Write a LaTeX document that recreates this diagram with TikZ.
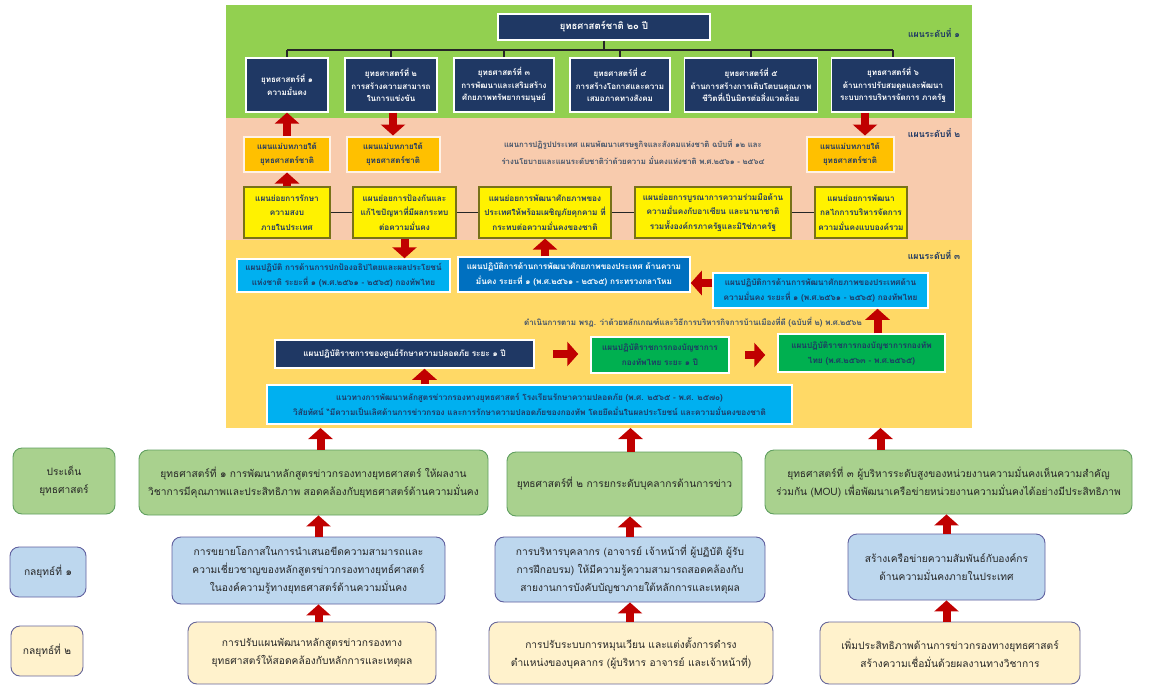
\documentclass[tikz,border=0pt]{standalone}
\usepackage{fontspec}
\setmainfont[Script=Thai]{Loma}
\usetikzlibrary{arrows.meta}
\definecolor{lvgreen}{HTML}{92D050}
\definecolor{lvpeach}{HTML}{F8CBAD}
\definecolor{lvgold}{HTML}{FFD966}
\definecolor{navy}{HTML}{1F3864}
\definecolor{slate}{HTML}{44546A}
\definecolor{darkred}{HTML}{C00000}
\definecolor{orangebox}{HTML}{FFC000}
\definecolor{skyblue}{HTML}{00B0F0}
\definecolor{midblue}{HTML}{0070C0}
\definecolor{plangreen}{HTML}{00B050}
\definecolor{sgreen}{HTML}{A9D18E}
\definecolor{sblue}{HTML}{BDD7EE}
\definecolor{scream}{HTML}{FFF2CC}
\tikzset{
    sz/.style 2 args={minimum width=#1, minimum height=#2},
    lvl/.style={font=\fontsize{8.8}{10}\selectfont\bfseries, text=navy},
    topbox/.style={fill=navy, draw=white, line width=1.2pt, text=white, font=\fontsize{8}{12.5}\selectfont\bfseries},
    mapbox/.style={fill=orangebox, draw=white!90!orange, line width=2pt, text=navy, font=\fontsize{8}{14}\selectfont\bfseries},
    subplan/.style={fill=yellow, draw=olive!80!black, line width=1.2pt, text=navy, font=\fontsize{8.2}{14.5}\selectfont\bfseries},
    actbox/.style={draw=white, line width=1.5pt, text=navy, font=\fontsize{8.2}{15}\selectfont\bfseries},
    issue/.style={rounded corners=9pt, line width=0.9pt, text=black!85, font=\fontsize{10.2}{18}\selectfont},
    redarrow/.style={draw=darkred, line width=8pt, -{Triangle[width=24pt,length=11pt]}},
    link/.style={draw=black!85, line width=1.6pt}
}

\begin{document}
\begin{tikzpicture}[x=1pt, y=-1pt, every node/.style={align=center, inner sep=2pt}]
\useasboundingbox (0,0) rectangle (1168,686);
\fill[lvgreen] (226,5) rectangle (972,118);
\fill[lvpeach] (226,118) rectangle (972,240);
\fill[lvgold] (226,240) rectangle (972,428);
\coordinate (lv3) at (600,428);

% plan level 1
\node[topbox, sz={212}{26}, font=\fontsize{9.5}{11}\selectfont\bfseries] (nat) at (604,27) {ยุทธศาสตร์ชาติ ๒๐ ปี};
\node[lvl] (l1) at (934,33) {แผนระดับที่ ๑};
\node[topbox, sz={82}{54}] (s1) at (287,85) {ยุทธศาสตร์ที่ ๑\\ความมั่นคง};
\node[topbox, sz={92}{54}] (s2) at (391,85) {ยุทธศาสตร์ที่ ๒\\การสร้างความสามารถ\\ในการแข่งขัน};
\node[topbox, sz={100}{54}] (s3) at (504,85) {ยุทธศาสตร์ที่ ๓\\การพัฒนาและเสริมสร้าง\\ศักยภาพทรัพยากรมนุษย์};
\node[topbox, sz={100}{54}] (s4) at (620,85) {ยุทธศาสตร์ที่ ๔\\การสร้างโอกาสและความ\\เสมอภาคทางสังคม};
\node[topbox, sz={133}{54}] (s5) at (751,85) {ยุทธศาสตร์ที่ ๕\\ด้านการสร้างการเติบโตบนคุณภาพ\\ชีวิตที่เป็นมิตรต่อสิ่งแวดล้อม};
\node[topbox, sz={123}{54}] (s6) at (893,85) {ยุทธศาสตร์ที่ ๖\\ด้านการปรับสมดุลและพัฒนา\\ระบบการบริหารจัดการ ภาครัฐ};
\coordinate (bus) at (604,50);
\draw[link] (nat.south) -- (bus);
\draw[link] (s1.north |- bus) -- (s6.north |- bus);
\foreach \i in {1,...,6} \draw[link] (s\i.north |- bus) -- (s\i.north);

% plan level 2
\node[lvl] (l2) at (934,133) {แผนระดับที่ ๒};
\node[mapbox, sz={86}{35}] (m1) at (287,154) {แผนแม่บทภายใต้\\ยุทธศาสตร์ชาติ};
\node[mapbox, sz={93}{35}] (m2) at (393,154) {แผนแม่บทภายใต้\\ยุทธศาสตร์ชาติ};
\node[mapbox, sz={87}{35}] (m3) at (850,154) {แผนแม่บทภายใต้\\ยุทธศาสตร์ชาติ};
\node[font=\fontsize{7.8}{17}\selectfont\bfseries, text=slate] (nsp) at (633,152) {แผนการปฏิรูปประเทศ แผนพัฒนาเศรษฐกิจและสังคมแห่งชาติ ฉบับที่ ๑๒ และ\\ร่างนโยบายและแผนระดับชาติว่าด้วยความ มั่นคงแห่งชาติ พ.ศ.๒๕๖๑ - ๒๕๖๔};
\node[subplan, sz={86}{51}] (p1) at (287,212.5) {แผนย่อยการรักษา\\ความสงบ\\ภายในประเทศ};
\node[subplan, sz={103}{51}] (p2) at (404.5,212.5) {แผนย่อยการป้องกันและ\\แก้ไขปัญหาที่มีผลกระทบ\\ต่อความมั่นคง};
\node[subplan, sz={132}{51}] (p3) at (545,212.5) {แผนย่อยการพัฒนาศักยภาพของ\\ประเทศให้พร้อมเผชิญภัยคุกคาม ที่\\กระทบต่อความมั่นคงของชาติ};
\node[subplan, sz={156}{51}] (p4) at (713,212.5) {แผนย่อยการบูรณาการความร่วมมือด้าน\\ความมั่นคงกับอาเซียน และนานาชาติ\\รวมทั้งองค์กรภาครัฐและมิใช่ภาครัฐ};
\node[subplan, sz={92}{51}] (p5) at (861,212.5) {แผนย่อยการพัฒนา\\กลไกการบริหารจัดการ\\ความมั่นคงแบบองค์รวม};
\foreach \i/\j in {1/2,2/3,3/4,4/5} \draw[link] (p\i.east) -- (p\j.west);
\draw[redarrow] (m1.north) -- (s1.south);
\draw[redarrow] (m2.north |- s2.south) -- (m2.north);
\draw[redarrow] ([xshift=15pt]m3.north |- s6.south) -- ([xshift=15pt]m3.north);
\draw[redarrow] (p1.north) -- (m1.south);

% plan level 3
\node[lvl] (l3) at (934,255) {แผนระดับที่ ๓};
\node[actbox, fill=skyblue, sz={213}{33}] (pa) at (343.5,275.5) {แผนปฏิบัติ การด้านการปกป้องอธิปไตยและผลประโยชน์\\แห่งชาติ ระยะที่ ๑ (พ.ศ.๒๕๖๑ - ๒๕๖๕) กองทัพไทย};
\node[actbox, fill=midblue, text=white, sz={232}{35}] (pb) at (574,274.5) {แผนปฏิบัติการด้านการพัฒนาศักยภาพของประเทศ ด้านความ\\มั่นคง ระยะที่ ๑ (พ.ศ.๒๕๖๑ - ๒๕๖๕) กระทรวงกลาโหม};
\node[actbox, fill=skyblue, sz={215}{35}] (pc) at (820.5,290.5) {แผนปฏิบัติการด้านการพัฒนาศักยภาพของประเทศด้าน\\ความมั่นคง ระยะที่ ๑ (พ.ศ.๒๕๖๑ - ๒๕๖๕) กองทัพไทย};
\node[font=\fontsize{8}{9}\selectfont\bfseries, text=slate] (rd) at (693,322) {ดำเนินการตาม พรฎ. ว่าด้วยหลักเกณฑ์และวิธีการบริหารกิจการบ้านเมืองที่ดี (ฉบับที่ ๒) พ.ศ.๒๕๖๒};
\node[actbox, fill=navy, text=white, sz={259}{28}] (nv) at (404.5,354) {แผนปฏิบัติราชการของศูนย์รักษาความปลอดภัย ระยะ ๑ ปี};
\node[actbox, fill=plangreen, sz={138}{36}] (ga) at (660,355) {แผนปฏิบัติราชการกองบัญชาการ\\กองทัพไทย ระยะ ๑ ปี};
\node[actbox, fill=plangreen, sz={167}{38}] (gb) at (861.5,353) {แผนปฏิบัติราชการกองบัญชาการกองทัพ\\ไทย (พ.ศ.๒๕๖๓ - พ.ศ.๒๕๖๕)};
\node[actbox, fill=skyblue, sz={525}{39}] (cw) at (529.5,404.5) {แนวทางการพัฒนาหลักสูตรข่าวกรองทางยุทธศาสตร์ โรงเรียนรักษาความปลอดภัย (พ.ศ. ๒๕๖๕ - พ.ศ. ๒๕๗๐)\\วิสัยทัศน์ “มีความเป็นเลิศด้านการข่าวกรอง และการรักษาความปลอดภัยของกองทัพ โดยยึดมั่นในผลประโยชน์ และความมั่นคงของชาติ};
\draw[redarrow] (p2.south) -- (p2.south |- pa.north);
\draw[redarrow] (p3.south |- pb.north) -- (p3.south);
\draw[redarrow] ([yshift=7.5pt]pc.west) -- ([yshift=7.5pt]pc.west -| pb.east);
\draw[redarrow] ([xshift=16pt]gb.north) -- ([xshift=16pt]gb.north |- pc.south);
\draw[redarrow, shorten <=18pt, shorten >=12pt] (nv.east) -- (nv.east -| ga.west);
\draw[redarrow, shorten <=15pt, shorten >=12pt] (ga.east) -- (ga.east -| gb.west);
\draw[redarrow] ([xshift=20pt]nv.south |- cw.north) -- ([xshift=20pt]nv.south);

% strategy
\node[issue, fill=sgreen, draw=green!25!gray, sz={102}{66}] (hi) at (64,481) {ประเด็น\\ยุทธศาสตร์};
\node[issue, fill=sblue, draw=blue!25!gray, sz={76}{50}] (ha) at (48,572) {กลยุทธ์ที่ ๑};
\node[issue, fill=scream, draw=blue!20!gray, sz={72}{50}] (hb) at (47,651) {กลยุทธ์ที่ ๒};
\node[issue, fill=sgreen, draw=green!25!gray, sz={349}{65}] (g1) at (313.5,482.5) {ยุทธศาสตร์ที่ ๑ การพัฒนาหลักสูตรข่าวกรองทางยุทธศาสตร์ ให้ผลงาน\\วิชาการมีคุณภาพและประสิทธิภาพ สอดคล้องกับยุทธศาสตร์ด้านความมั่นคง};
\node[issue, fill=sgreen, draw=green!25!gray, sz={235}{64}] (g2) at (624.5,484) {ยุทธศาสตร์ที่ ๒ การยกระดับบุคลากรด้านการข่าว};
\node[issue, fill=sgreen, draw=green!25!gray, sz={367}{64}] (g3) at (948.5,482) {ยุทธศาสตร์ที่ ๓ ผู้บริหารระดับสูงของหน่วยงานความมั่นคงเห็นความสำคัญ\\ร่วมกัน (MOU) เพื่อพัฒนาเครือข่ายหน่วยงานความมั่นคงได้อย่างมีประสิทธิภาพ};
\node[issue, fill=sblue, draw=blue!25!gray, sz={273}{67}] (k1) at (308.5,570.5) {การขยายโอกาสในการนำเสนอขีดความสามารถและ\\ความเชี่ยวชาญของหลักสูตรข่าวกรองทางยุทธ์ศาสตร์\\ในองค์ความรู้ทางยุทธศาสตร์ด้านความมั่นคง};
\node[issue, fill=sblue, draw=blue!25!gray, sz={270}{65}] (k2) at (630,569.5) {การบริหารบุคลากร (อาจารย์ เจ้าหน้าที่ ผู้ปฏิบัติ ผู้รับ\\การฝึกอบรม) ให้มีความรู้ความสามารถสอดคล้องกับ\\สายงานการบังคับบัญชาภายใต้หลักการและเหตุผล};
\node[issue, fill=sblue, draw=blue!25!gray, sz={197}{66}] (k3) at (946.5,567) {สร้างเครือข่ายความสัมพันธ์กับองค์กร\\ด้านความมั่นคงภายในประเทศ};
\node[issue, fill=scream, draw=blue!20!gray, sz={248}{62}] (r1) at (312,653) {การปรับแผนพัฒนาหลักสูตรข่าวกรองทาง\\ยุทธศาสตร์ให้สอดคล้องกับหลักการและเหตุผล};
\node[issue, fill=scream, draw=blue!20!gray, sz={284}{62}] (r2) at (631,653) {การปรับระบบการหมุนเวียน และแต่งตั้งการดำรง\\ตำแหน่งของบุคลากร (ผู้บริหาร อาจารย์ และเจ้าหน้าที่)};
\node[issue, fill=scream, draw=blue!20!gray, sz={260}{62}] (r3) at (950,653) {เพิ่มประสิทธิภาพด้านการข่าวกรองทางยุทธศาสตร์\\สร้างความเชื่อมั่นด้วยผลงานทางวิชาการ};
\draw[redarrow] ([xshift=7pt]g1.north) -- ([xshift=7pt]g1.north |- lv3);
\draw[redarrow] ([xshift=6pt]g2.north) -- ([xshift=6pt]g2.north |- lv3);
\draw[redarrow] ([xshift=-68pt]g3.north) -- ([xshift=-68pt]g3.north |- lv3);
\draw[redarrow] ([xshift=10pt]k1.north) -- ([xshift=10pt]k1.north |- g1.south);
\draw[redarrow] (k2.north) -- (k2.north |- g2.south);
\draw[redarrow] (k3.north) -- (k3.north |- g3.south);
\draw[redarrow] ([xshift=10pt]k1.south |- r1.north) -- ([xshift=10pt]k1.south);
\draw[redarrow] (k2.south |- r2.north) -- (k2.south);
\draw[redarrow] (k3.south |- r3.north) -- (k3.south);
\end{tikzpicture}
\end{document}
